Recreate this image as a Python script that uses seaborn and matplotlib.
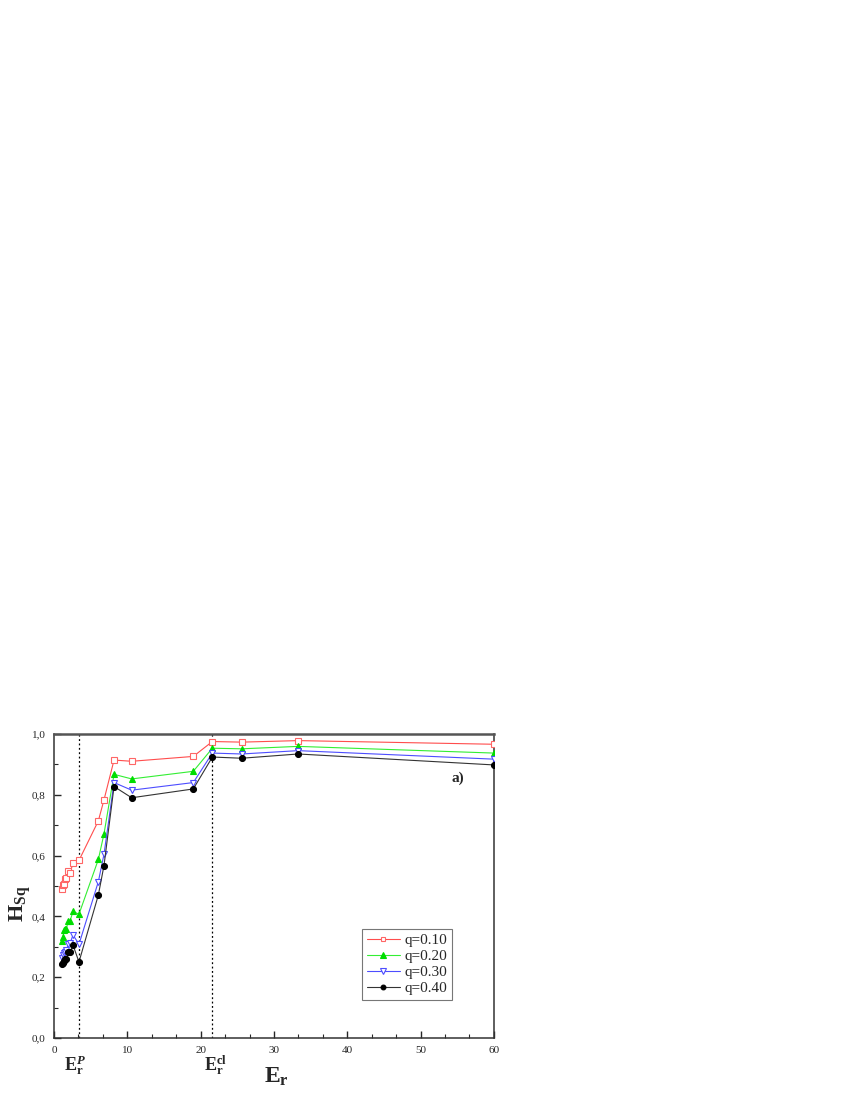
import numpy as np
import pandas as pd
import matplotlib
matplotlib.use("Agg")
import matplotlib.pyplot as plt
import seaborn as sns
from matplotlib.ticker import MultipleLocator, FuncFormatter
from matplotlib.transforms import blended_transform_factory

# ---- data ----
E_r = [1.14, 1.23, 1.37, 1.50, 1.69, 1.96, 2.19, 2.60, 3.41, 6.05, 6.82,
       8.19, 10.6, 19.0, 21.6, 25.6, 33.3, 60.0]
H_q010 = [0.491, 0.503, 0.507, 0.523, 0.525, 0.549, 0.543, 0.575, 0.584, 0.714,
          0.783, 0.914, 0.910, 0.926, 0.975, 0.973, 0.978, 0.966]
H_q020 = [0.319, 0.333, 0.354, 0.357, 0.360, 0.385, 0.385, 0.416, 0.407, 0.587,
          0.671, 0.867, 0.852, 0.877, 0.953, 0.951, 0.959, 0.937]
H_q030 = [0.264, 0.272, 0.279, 0.284, 0.290, 0.308, 0.311, 0.339, 0.308, 0.514,
          0.604, 0.840, 0.815, 0.840, 0.937, 0.934, 0.945, 0.917]
H_q040 = [0.243, 0.248, 0.254, 0.259, 0.261, 0.284, 0.284, 0.305, 0.250, 0.470,
          0.567, 0.827, 0.790, 0.819, 0.924, 0.920, 0.934, 0.898]
series_labels = ["q=0.10", "q=0.20", "q=0.30", "q=0.40"]
E_P = 3.4
E_cl = 21.6

df = pd.DataFrame({
    "E": E_r * 4,
    "H": H_q010 + H_q020 + H_q030 + H_q040,
    "q": sum([[lab] * len(E_r) for lab in series_labels], []),
})

sns.set_style("ticks")
plt.rcParams["font.family"] = ["Liberation Serif", "DejaVu Serif"]
plt.rcParams["mathtext.fontset"] = "custom"
plt.rcParams["mathtext.rm"] = "Liberation Serif"
plt.rcParams["mathtext.bf"] = "Liberation Serif:bold"
plt.rcParams["mathtext.it"] = "Liberation Serif:italic"
plt.rcParams["mathtext.bfit"] = "Liberation Serif:bold:italic"

fig = plt.figure(figsize=(8.5, 11), dpi=100)
ax = fig.add_axes([0.0635, 0.0564, 0.5176, 0.2764])

styles = {
    "q=0.10": dict(color="#ff4d4d", marker="s", mfc="white", mec="#ff6666", ms=4.2),
    "q=0.20": dict(color="#33ee33", marker="^", mfc="#00dd00", mec="#00dd00", ms=4.8),
    "q=0.30": dict(color="#4d4dff", marker="v", mfc="white", mec="#4d4dff", ms=4.8),
    "q=0.40": dict(color="#333333", marker="o", mfc="black", mec="black", ms=4.3),
}
for lab in series_labels:
    st = styles[lab]
    sns.lineplot(data=df[df["q"] == lab], x="E", y="H", ax=ax, sort=False,
                 color=st["color"], lw=0.8, marker=st["marker"],
                 markerfacecolor=st["mfc"], markeredgecolor=st["mec"],
                 markersize=st["ms"], markeredgewidth=0.8, label=lab,
                 errorbar=None, zorder=3)

ax.axvline(E_P, color="black", ls=(0, (1.5, 2)), lw=0.9, zorder=1)
ax.axvline(E_cl, color="black", ls=(0, (1.5, 2)), lw=0.9, zorder=1)

ax.set_xlim(0, 60)
ax.set_ylim(0, 1.0)
ax.xaxis.set_major_locator(MultipleLocator(10))
ax.xaxis.set_minor_locator(MultipleLocator(10 / 3))
ax.yaxis.set_major_locator(MultipleLocator(0.2))
ax.yaxis.set_minor_locator(MultipleLocator(0.1))
ax.yaxis.set_major_formatter(FuncFormatter(lambda v, p: f"{v:.1f}".replace(".", ",")))
ax.xaxis.set_major_formatter(FuncFormatter(lambda v, p: f"{int(round(v))}"))
ax.tick_params(axis="both", which="major", direction="in", length=5, width=1,
               labelsize=8, top=False, right=False, pad=6)
ax.tick_params(axis="both", which="minor", direction="in", length=3, width=0.8,
               top=False, right=False)

for side in ["left", "bottom", "right"]:
    ax.spines[side].set_visible(True)
    ax.spines[side].set_linewidth(1.1)
    ax.spines[side].set_color("#333333")
ax.spines["top"].set_visible(True)
ax.spines["top"].set_linewidth(1.8)
ax.spines["top"].set_color("#555555")

ax.set_xlabel("")
ax.set_ylabel("")

trans = blended_transform_factory(ax.transData, ax.transAxes)
ax.text(2.9, -0.09, r"$\mathbf{E_r^{\mathbfit{P}}}$", transform=trans,
        ha="center", va="center", fontsize=13)
ax.text(22.0, -0.09, r"$\mathbf{E_r^{cl}}$", transform=trans,
        ha="center", va="center", fontsize=13)
ax.text(30.3, -0.127, r"$\mathbf{E_r}$", transform=trans,
        ha="center", va="center", fontsize=17)
ax.text(-0.077, 0.44, r"$\mathbf{H_{Sq}}$", transform=ax.transAxes,
        ha="center", va="center", rotation=90, fontsize=16)
ax.text(55.1, 0.855, "a)", ha="center", va="center", fontsize=11,
        fontweight="bold")

leg = ax.legend(loc="lower right", bbox_to_anchor=(0.905, 0.125), frameon=True,
                fancybox=False, edgecolor="#555555", fontsize=11,
                handlelength=2.2, handletextpad=0.3, borderpad=0.3,
                labelspacing=0.15, markerscale=0.8, borderaxespad=0)
leg.get_frame().set_linewidth(0.8)

fig.savefig("out.png", dpi=100)
